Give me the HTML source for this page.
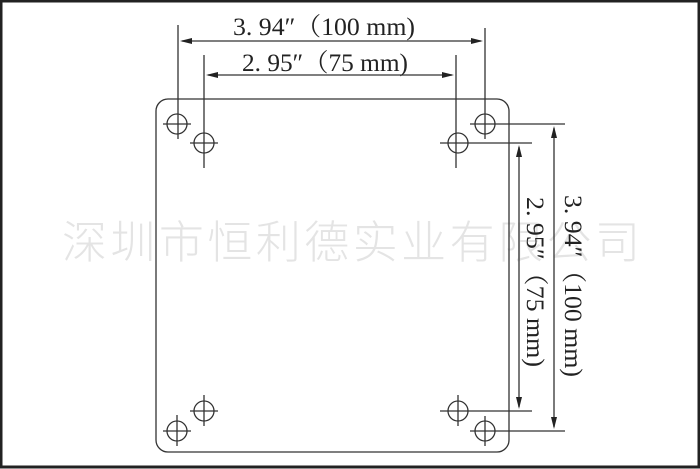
<!DOCTYPE html>
<html><head><meta charset="utf-8"><style>
html,body{margin:0;padding:0;background:#fff;}
svg{display:block;}
</style></head><body>
<svg width="700" height="469" viewBox="0 0 700 469" xmlns="http://www.w3.org/2000/svg">
<rect x="1" y="1" width="698" height="466" fill="#fff" stroke="#222" stroke-width="3"/>
<text x="62" y="258" font-family="Noto Sans CJK SC, sans-serif" font-weight="300" font-size="45" fill="#e4e4e4" textLength="578" lengthAdjust="spacing">深圳市恒利德实业有限公司</text>
<g stroke="#333" stroke-width="1.3" fill="none">
<rect x="156" y="99" width="353" height="353" rx="12"/>
<circle cx="177" cy="124" r="10"/><line x1="163" y1="124" x2="191" y2="124"/>
<circle cx="485" cy="124" r="10"/><line x1="470" y1="124" x2="565" y2="124"/>
<circle cx="177" cy="431" r="10"/><line x1="163" y1="431" x2="191" y2="431"/><line x1="177" y1="415" x2="177" y2="446"/>
<circle cx="485" cy="431" r="10"/><line x1="470" y1="431" x2="565" y2="431"/><line x1="485" y1="416" x2="485" y2="446"/>
<circle cx="204" cy="143" r="10"/><line x1="190" y1="143" x2="218" y2="143"/>
<circle cx="458" cy="143" r="10"/><line x1="440" y1="143" x2="532" y2="143"/>
<circle cx="204" cy="411" r="10"/><line x1="190" y1="411" x2="218" y2="411"/><line x1="204" y1="395" x2="204" y2="426"/>
<circle cx="458" cy="411" r="10"/><line x1="440" y1="411" x2="532" y2="411"/><line x1="458" y1="395" x2="458" y2="426"/>
<line x1="178" y1="25" x2="178" y2="139"/>
<line x1="485" y1="28" x2="485" y2="139"/>
<line x1="204" y1="55" x2="204" y2="168"/>
<line x1="456" y1="55" x2="456" y2="168"/>
<line x1="182" y1="41" x2="481" y2="41"/>
<line x1="208" y1="75" x2="452" y2="75"/>
<line x1="554" y1="128" x2="554" y2="427"/>
<line x1="519" y1="147" x2="519" y2="407"/>
</g>
<g fill="#222">
<polygon points="180,41 192,38 192,44"/>
<polygon points="483,41 471,38 471,44"/>
<polygon points="206,75 218,72 218,78"/>
<polygon points="454,75 442,72 442,78"/>
<polygon points="554,126 551,138 557,138"/>
<polygon points="554,429 551,417 557,417"/>
<polygon points="519,145 516,157 522,157"/>
<polygon points="519,409 516,397 522,397"/>
</g>
<g font-family="Liberation Serif, Noto Serif CJK SC, serif" font-size="25" fill="#222" lengthAdjust="spacingAndGlyphs">
<text x="233" y="35" textLength="182" lengthAdjust="spacingAndGlyphs">3. 94″（100 mm)</text>
<text x="242" y="71" textLength="166" lengthAdjust="spacingAndGlyphs">2. 95″（75 mm)</text>
<text transform="translate(565,195) rotate(90)" textLength="182" lengthAdjust="spacingAndGlyphs">3. 94″（100 mm)</text>
<text transform="translate(527,197) rotate(90)" textLength="170" lengthAdjust="spacingAndGlyphs">2. 95″（75 mm)</text>
</g>
</svg>
</body></html>
